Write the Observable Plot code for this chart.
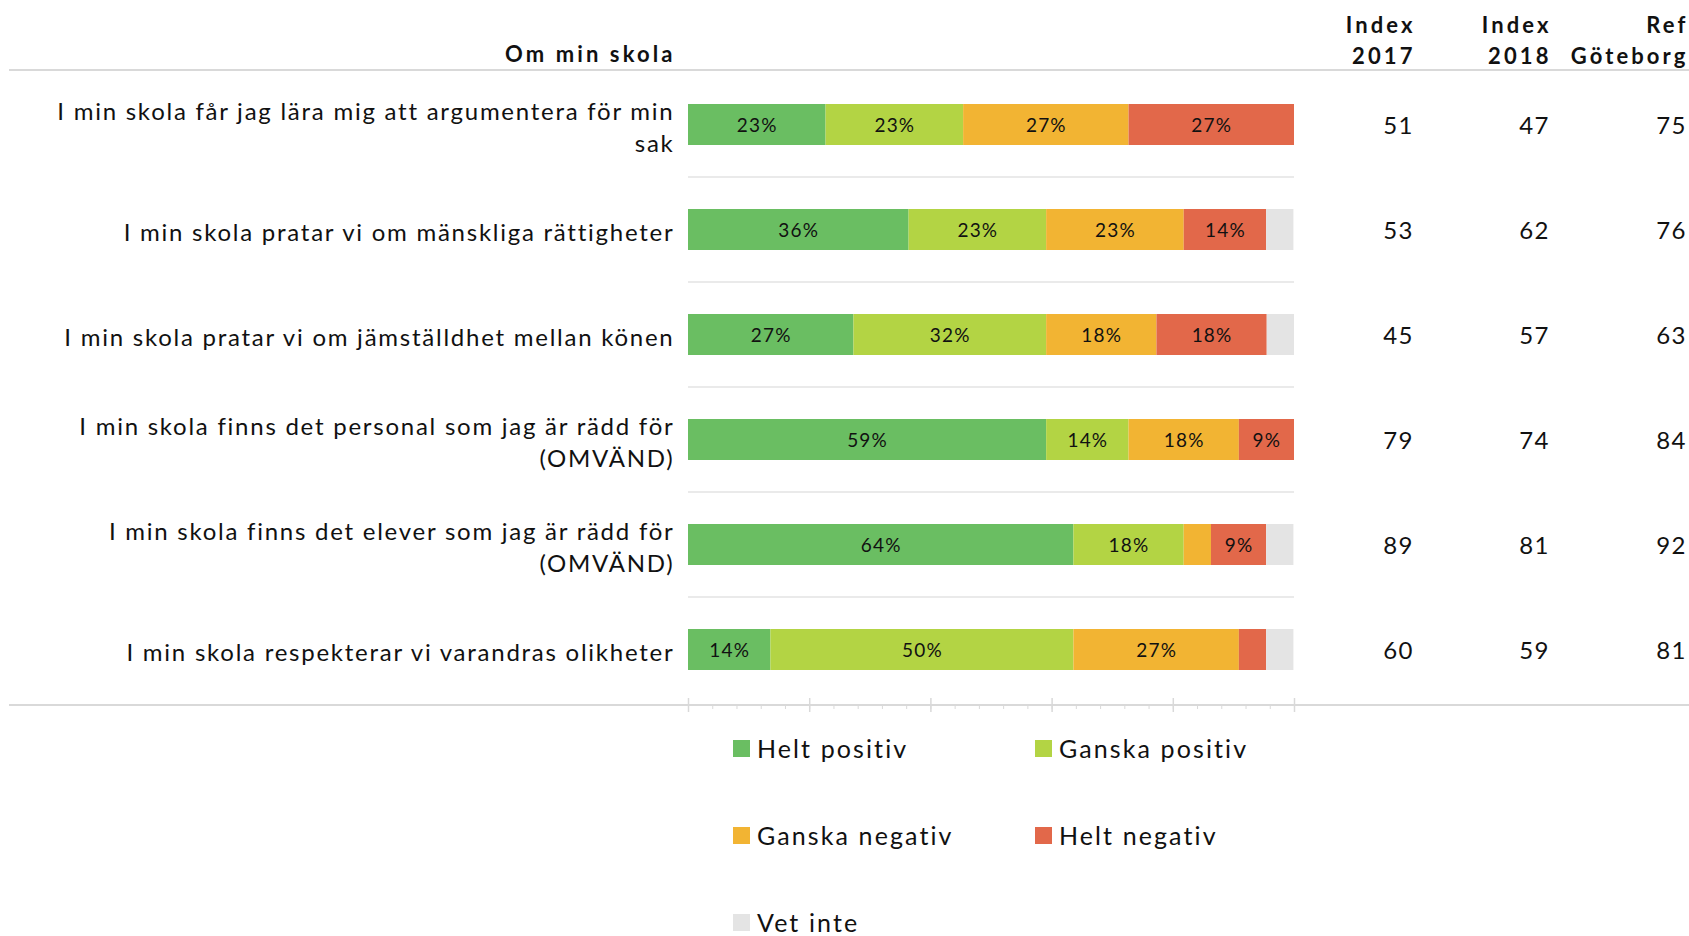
<!DOCTYPE html>
<html><head><meta charset="utf-8">
<script src="https://cdn.jsdelivr.net/npm/d3@7"></script>
<script src="https://cdn.jsdelivr.net/npm/@observablehq/plot@0.6"></script>
<style>
body{margin:0;background:#fff;font-family:Lato,sans-serif;}
#wrap{position:relative;width:1689px;height:936px;overflow:hidden;}
.li{position:absolute;display:flex;align-items:center;font-size:25px;letter-spacing:2.1px;color:#111;height:22px;line-height:22px;}
.sw{width:17px;height:17px;margin-right:7px;display:inline-block;}
</style>
</head><body><div id="wrap"><div id="chart"></div><div id="legend"></div></div>
<script>
const questions = [
  "I min skola får jag lära mig att argumentera för min\nsak",
  "I min skola pratar vi om mänskliga rättigheter",
  "I min skola pratar vi om jämställdhet mellan könen",
  "I min skola finns det personal som jag är rädd för\n(OMVÄND)",
  "I min skola finns det elever som jag är rädd för\n(OMVÄND)",
  "I min skola respekterar vi varandras olikheter"
];
const categories = ["Helt positiv","Ganska positiv","Ganska negativ","Helt negativ","Vet inte"];
const colors = ["#6abe62","#b3d444","#f2b433","#e2684a","#e4e4e4"];
const heltPositiv   = [22.7, 36.4, 27.3, 59.1, 63.6, 13.6];
const ganskaPositiv = [22.7, 22.7, 31.8, 13.6, 18.2, 50.0];
const ganskaNegativ = [27.3, 22.7, 18.2, 18.2, 4.5, 27.3];
const heltNegativ   = [27.3, 13.6, 18.2, 9.1, 9.1, 4.5];
const vetInte       = [0, 4.5, 4.5, 0, 4.5, 4.5];
const index2017 = [51, 53, 45, 79, 89, 60];
const index2018 = [47, 62, 57, 74, 81, 59];
const refGoteborg = [75, 76, 63, 84, 92, 81];
const columnHeaders = ["Index\n2017", "Index\n2018", "Ref\nGöteborg"];
const sectionTitle = "Om min skola";
const majorTicks = [0, 20, 40, 60, 80, 100];
const minorTicks = [0,4,8,12,16,20,24,28,32,36,40,44,48,52,56,60,64,68,72,76,80,84,88,92,96,100];

const series = [heltPositiv, ganskaPositiv, ganskaNegativ, heltNegativ, vetInte];
const rows = categories.flatMap((c, ci) => questions.map((q, qi) => ({question: q, category: c, value: series[ci][qi]})));
const columns = [index2017, index2018, refGoteborg];

const W = 1689, H = 720, mL = 688, mR = W - 1294, mT = 70, mB = H - 705;
const frameH = H - mT - mB;
const step = frameH / questions.length;
const colDx = [118, 254, 391];

// letter spacing per text mark, applied in the order the text marks are declared
const spacings = [];
function spacedText(data, options, ls) {
  spacings.push(ls);
  return Plot.text(data, options);
}

const fullLines = (index, scales, values, dims) => {
  const g = d3.create("svg:g").attr("stroke", "#d9d9d9").attr("stroke-width", 2);
  g.append("line").attr("x1", 9).attr("x2", dims.width).attr("y1", dims.marginTop).attr("y2", dims.marginTop);
  g.append("line").attr("x1", 9).attr("x2", dims.width).attr("y1", dims.height - dims.marginBottom).attr("y2", dims.height - dims.marginBottom);
  return g.node();
};

const marks = [
  Plot.ruleY(questions.slice(1), {y: d => d, dy: -step / 2, stroke: "#e3e3e3", strokeWidth: 1.5}),
  Plot.barX(rows, {x: "value", y: "question", fill: "category", order: categories}),
  spacedText(rows, Plot.stackX({x: "value", y: "question", z: "category", order: categories,
    text: d => d.value >= 8 ? Math.round(d.value) + "%" : "", fontSize: 19, fill: "#111", dy: 1}), 1.2),
  spacedText(questions, {y: d => d, text: d => d, frameAnchor: "left", textAnchor: "end", dx: -14, dy: 1,
    fontSize: 24, lineHeight: 1.33, fill: "#111"}, 1.75),
  spacedText([sectionTitle], {text: d => d, frameAnchor: "top-left", textAnchor: "end", lineAnchor: "middle", dx: -13, dy: -16,
    fontSize: 22, fontWeight: "bold", fill: "#111"}, 3.1),
  fullLines,
  Plot.ruleX(majorTicks, {x: d => d, insetTop: frameH - 7, stroke: "#d9d9d9", strokeWidth: 1.5}),
  Plot.axisX({ticks: majorTicks, tickSize: 7, tickFormat: () => "", label: null, stroke: "#d9d9d9", strokeWidth: 1.5}),
  Plot.axisX({ticks: minorTicks, tickSize: 4, tickFormat: () => "", label: null, stroke: "#d9d9d9"})
];
columns.forEach((vals, j) => {
  marks.push(spacedText(questions, {y: d => d, text: (d, i) => String(vals[i]), frameAnchor: "right", textAnchor: "end",
    dx: colDx[j] + 1.5, dy: 1, fontSize: 24, fill: "#111"}, 1.5));
  marks.push(spacedText([columnHeaders[j]], {text: d => d, frameAnchor: "top-right", textAnchor: "end", lineAnchor: "middle",
    dx: colDx[j] + 3, dy: -31.5, lineHeight: 1.4, fontSize: 22, fontWeight: "bold", fill: "#111"}, 3.1));
});

const chart = Plot.plot({
  width: W, height: H, marginLeft: mL, marginRight: mR, marginTop: mT, marginBottom: mB,
  style: {fontFamily: "Lato, sans-serif", background: "#fff"},
  x: {domain: [0, 100], axis: null},
  y: {domain: questions, axis: null, paddingInner: 0.606, paddingOuter: 0.303},
  color: {domain: categories, range: colors},
  marks
});
d3.select(chart).selectAll('g[aria-label="text"]').each(function(d, i) {
  if (spacings[i] != null) this.setAttribute("letter-spacing", spacings[i] + "px");
});
document.getElementById("chart").append(chart);

const legend = document.getElementById("legend");
const legendX = [733, 1035], legendY0 = 748, legendStep = 87;
categories.forEach((c, i) => {
  const el = document.createElement("div");
  el.className = "li";
  el.style.left = legendX[i % 2] + "px";
  el.style.top = (legendY0 + Math.floor(i / 2) * legendStep - 11) + "px";
  el.innerHTML = `<span class="sw" style="background:${colors[i]}"></span><span>${c}</span>`;
  legend.append(el);
});
</script>
</body></html>
